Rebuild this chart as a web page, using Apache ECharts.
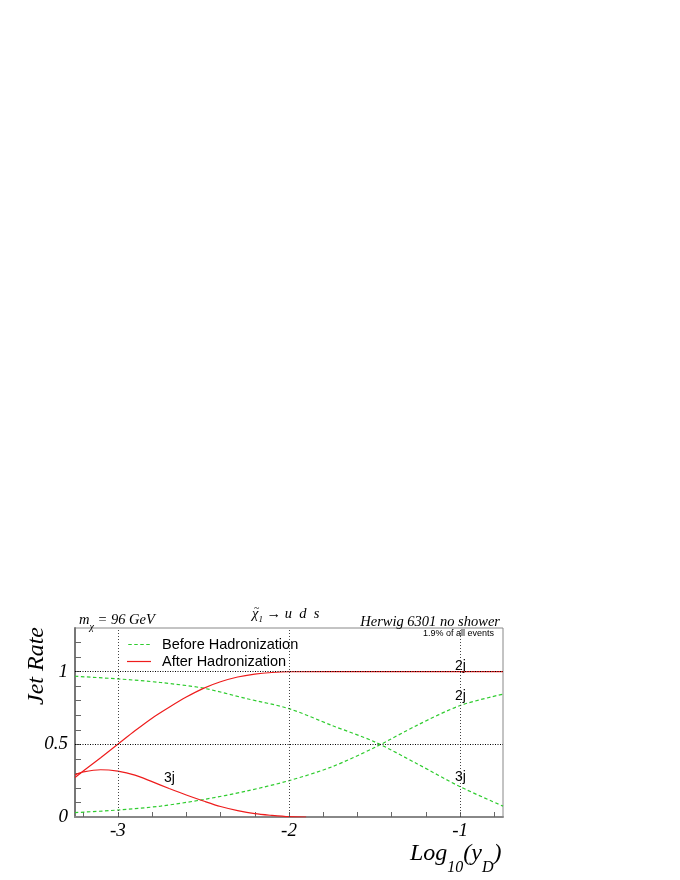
<!DOCTYPE html>
<html>
<head>
<meta charset="utf-8">
<script src="https://cdn.jsdelivr.net/npm/echarts@6/dist/echarts.min.js"></script>
<style>
  html, body { margin: 0; background: #fff; }
  #chart { width: 680px; height: 880px; }
</style>
</head>
<body>
<div id="chart"></div>
<script>
// before hadronization (green dashed)
var xBefore = [-3.25, -3.0, -2.75, -2.5, -2.25, -2.0, -1.75, -1.5, -1.25, -1.0, -0.75];
var before2j = [0.03, 0.048, 0.075, 0.12, 0.178, 0.25, 0.345, 0.478, 0.632, 0.767, 0.845];
var before3j = [0.968, 0.95, 0.925, 0.886, 0.815, 0.745, 0.63, 0.517, 0.365, 0.208, 0.075];

// after hadronization (red solid)
var xAfter2j = [-3.25, -3.2, -3.1, -3.0, -2.9, -2.8, -2.7, -2.6, -2.5, -2.4, -2.3, -2.2, -2.1, -2.0, -1.5, -1.0, -0.75];
var after2j = [0.272, 0.318, 0.408, 0.5, 0.593, 0.68, 0.755, 0.825, 0.885, 0.93, 0.963, 0.983, 0.994, 0.999, 1, 1, 1];
var xAfter3j = [-3.25, -3.2, -3.1, -3.0, -2.9, -2.8, -2.7, -2.6, -2.5, -2.4, -2.3, -2.2, -2.1, -2.0, -1.9];
var after3j = [0.29, 0.31, 0.325, 0.315, 0.288, 0.243, 0.196, 0.151, 0.11, 0.072, 0.044, 0.023, 0.011, 0.002, 0];

var xLabels = [-3, -2, -1];
var xTicks = [-3.2, -3.0, -2.8, -2.6, -2.4, -2.2, -2.0, -1.8, -1.6, -1.4, -1.2, -1.0, -0.8];
var yLabels = [0, 0.5, 1];
var yTicks = [0.1, 0.2, 0.3, 0.4, 0.5, 0.6, 0.7, 0.8, 0.9, 1.0, 1.1, 1.2];
var gridX = [-3, -2, -1];
var gridY = [0.5, 1];

var GREEN = '#2fcc2f';
var RED = '#ee1c1c';
var SERIF = '"Liberation Serif", "DejaVu Serif", serif';
var SANS = '"Liberation Sans", "DejaVu Sans", sans-serif';
var DASH = [3.5, 2.5];

function pairs(xs, ys) {
  return xs.map(function (x, i) { return [x, ys[i]]; });
}

var chart = echarts.init(document.getElementById('chart'));

var gridLines = gridX.map(function (v) {
  return { xAxis: v, lineStyle: { color: '#444', type: [1, 2], width: 1 } };
}).concat(gridY.map(function (v) {
  return { yAxis: v, lineStyle: { color: '#000', type: [1, 1.5], width: 1 } };
}));

function lineSeries(name, data, color, dashed) {
  return {
    name: name,
    type: 'line',
    data: data,
    symbol: 'none',
    smooth: 0.3,
    z: 3,
    lineStyle: { color: color, width: 1.2, type: dashed ? DASH : 'solid' },
    itemStyle: { color: color },
    animation: false
  };
}

var option = {
  backgroundColor: '#fff',
  animation: false,
  grid: {
    left: 75, right: 177, top: 628, bottom: 63,
    show: true, borderColor: '#888', borderWidth: 1, backgroundColor: 'transparent'
  },
  legend: {
    data: [
      {
        name: 'Before Hadronization',
        icon: 'path://M0,0H3.5V1.2H0Z M6,0H9.5V1.2H6Z M12,0H15.5V1.2H12Z M18,0H21.5V1.2H18Z',
        itemStyle: { color: GREEN, borderWidth: 0 }
      },
      {
        name: 'After Hadronization',
        icon: 'path://M0,0H24V1.2H0Z',
        itemStyle: { color: RED, borderWidth: 0 }
      }
    ],
    orient: 'vertical',
    left: 127, top: 637,
    padding: 0,
    itemWidth: 24, itemHeight: 1.2, itemGap: 2,
    selectedMode: false,
    lineStyle: { width: 0 },
    textStyle: { fontFamily: SANS, fontSize: 14.5, lineHeight: 13, color: '#000', padding: [0, 0, 0, 6] }
  },
  xAxis: {
    type: 'value', min: -3.25, max: -0.75,
    axisLine: { lineStyle: { color: '#888', width: 2 } },
    axisTick: { inside: true, length: 5, customValues: xTicks, lineStyle: { color: '#666', width: 1 } },
    axisLabel: {
      customValues: xLabels,
      formatter: function (v) { return String(Math.round(v)); },
      fontFamily: SERIF, fontStyle: 'italic', fontSize: 19, color: '#000', margin: 4
    },
    splitLine: { show: false }
  },
  yAxis: {
    type: 'value', min: 0, max: 1.3,
    axisLine: { lineStyle: { color: '#777', width: 2 } },
    axisTick: { inside: true, length: 6, customValues: yTicks, lineStyle: { color: '#666', width: 1 } },
    axisLabel: {
      customValues: yLabels,
      formatter: function (v) { return String(Math.round(v * 10) / 10); },
      fontFamily: SERIF, fontStyle: 'italic', fontSize: 19, color: '#000', margin: 7
    },
    splitLine: { show: false }
  },
  series: [
    {
      name: 'grid', type: 'line', data: [], z: 1, silent: true,
      markLine: { silent: true, symbol: 'none', label: { show: false }, animation: false, data: gridLines }
    },
    lineSeries('Before Hadronization', pairs(xBefore, before3j), GREEN, true),
    lineSeries('Before Hadronization', pairs(xBefore, before2j), GREEN, true),
    lineSeries('After Hadronization', pairs(xAfter2j, after2j), RED, false),
    lineSeries('After Hadronization', pairs(xAfter3j, after3j), RED, false)
  ],
  graphic: [
    {
      type: 'text', left: 79, top: 613,
      style: {
        text: '{i|m}{s|χ}{i| = 96 GeV}',
        rich: {
          i: { fontFamily: SERIF, fontStyle: 'italic', fontSize: 14.5, fill: '#000' },
          s: { fontFamily: SERIF, fontStyle: 'italic', fontSize: 10, fill: '#000', padding: [13, 0, 0, 0] }
        }
      }
    },
    {
      type: 'text', left: 252, top: 607,
      style: {
        text: '{i|χ}{s|1}{i| → u  d  s}',
        rich: {
          i: { fontFamily: SERIF, fontStyle: 'italic', fontSize: 14.5, fill: '#000' },
          s: { fontFamily: SERIF, fontStyle: 'italic', fontSize: 9, fill: '#000', padding: [10, 0, 0, 0] }
        }
      }
    },
    {
      type: 'text', left: 254, top: 603,
      style: { text: '~', font: '10px ' + SERIF, fill: '#000' }
    },
    {
      type: 'text', right: 180, top: 615,
      style: { text: 'Herwig 6301 no shower', font: 'italic 14.5px ' + SERIF, fill: '#000' }
    },
    {
      type: 'text', right: 186, top: 629,
      style: { text: '1.9% of all events', font: '9px ' + SANS, fill: '#000' }
    },
    { type: 'text', left: 455, top: 659, style: { text: '2j', font: '14px ' + SANS, fill: '#000' } },
    { type: 'text', left: 455, top: 689, style: { text: '2j', font: '14px ' + SANS, fill: '#000' } },
    { type: 'text', left: 455, top: 770, style: { text: '3j', font: '14px ' + SANS, fill: '#000' } },
    { type: 'text', left: 164, top: 771, style: { text: '3j', font: '14px ' + SANS, fill: '#000' } },
    {
      type: 'text', x: 37, y: 666, rotation: Math.PI / 2,
      style: {
        text: 'Jet Rate', font: 'italic 24px ' + SERIF, fill: '#000',
        align: 'center', verticalAlign: 'middle'
      }
    },
    {
      type: 'text', left: 410, top: 842,
      style: {
        text: '{a|Log}{s|10}{a|(y}{s|D}{a|)}',
        rich: {
          a: { fontFamily: SERIF, fontStyle: 'italic', fontSize: 24, fill: '#000' },
          s: { fontFamily: SERIF, fontStyle: 'italic', fontSize: 16, fill: '#000', padding: [27, 0, 0, 0] }
        }
      }
    }
  ]
};

chart.setOption(option);
</script>
</body>
</html>
